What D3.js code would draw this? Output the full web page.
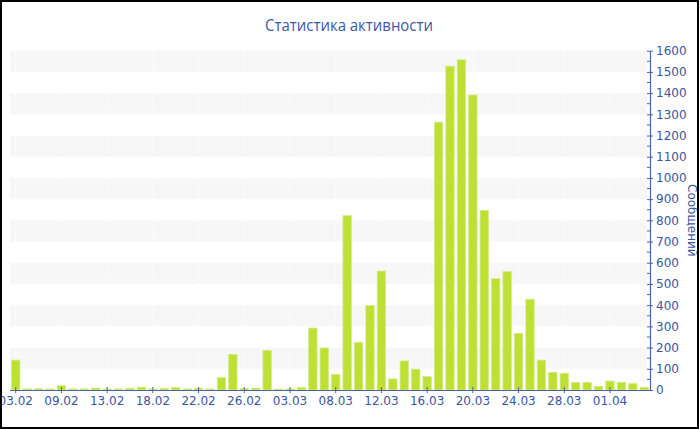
<!DOCTYPE html>
<html><head><meta charset="utf-8">
<script src="https://cdn.jsdelivr.net/npm/d3@7"></script>
<style>html,body{margin:0;padding:0;background:#fff;}svg{display:block;}</style>
</head><body>
<svg id="chart" width="700" height="430"></svg>
<script>
const categories = ["03.02","05.02","06.02","07.02","09.02","10.02","11.02","12.02","13.02","14.02","15.02","17.02","18.02","19.02","20.02","21.02","22.02","23.02","24.02","25.02","26.02","27.02","28.02","01.03","03.03","04.03","05.03","06.03","08.03","09.03","10.03","11.03","12.03","13.03","14.03","15.03","16.03","17.03","18.03","19.03","20.03","21.03","22.03","23.03","24.03","25.03","26.03","27.03","28.03","29.03","30.03","31.03","01.04","02.04","03.04","04.04"];
const messages = [141,5,6,5,20,5,5,9,5,5,8,13,5,7,12,5,9,5,58,168,8,9,187,4,5,11,292,198,74,822,225,398,561,52,137,98,63,1263,1527,1557,1391,847,525,558,267,428,141,83,79,36,35,17,42,36,30,13];
const xTickLabels = ["03.02","09.02","13.02","18.02","22.02","26.02","03.03","08.03","12.03","16.03","20.03","24.03","28.03","01.04"];
const yTicks = [0,100,200,300,400,500,600,700,800,900,1000,1100,1200,1300,1400,1500,1600];
const title = "Статистика активности";
const yTitle = "Сообщений";

const svg = d3.select("#chart");
const L = 10, R = 650, T = 50.7, B = 390;
const textColor = "#3b55a0", axisColor = "#4d62a8";
const font = "'DejaVu Sans', Verdana, sans-serif";

const x = d3.scaleBand().domain(categories).range([L, R]).paddingInner(0.27).paddingOuter(0.135);
const y = d3.scaleLinear().domain([0, 1600]).range([B, T]);

// shaded bands
const bands = yTicks.filter(v => v < 1600 && (v / 100) % 2 === 1);
svg.append("g").selectAll("rect").data(bands).join("rect")
  .attr("x", L).attr("width", R - L - 3)
  .attr("y", d => y(d + 100)).attr("height", d => y(d) - y(d + 100))
  .attr("fill", "#f7f7f7");

// faint vertical grid lines
svg.append("g").selectAll("line").data(xTickLabels).join("line")
  .attr("x1", d => x(d) + x.bandwidth() / 2).attr("x2", d => x(d) + x.bandwidth() / 2)
  .attr("y1", T).attr("y2", B)
  .attr("stroke", "#ffffff").attr("stroke-dasharray", "4,3").attr("stroke-width", 1);

// title
svg.append("text").attr("x", 349).attr("y", 31).attr("text-anchor", "middle")
  .attr("font-family", "'Open Sans', 'Noto Sans', sans-serif").attr("font-size", 16)
  .attr("textLength", 168).attr("lengthAdjust", "spacingAndGlyphs")
  .attr("fill", "#3d58a6").text(title);

// bars
svg.append("g").selectAll("rect").data(messages).join("rect")
  .attr("x", (d, i) => x(categories[i])).attr("width", x.bandwidth())
  .attr("y", d => y(d)).attr("height", d => B - y(d))
  .attr("fill", "#bde033").attr("stroke", "#d3ea84").attr("stroke-width", 0.8);

// x axis
const xAxis = d3.axisBottom(x).tickValues(xTickLabels).tickSize(3).tickSizeOuter(0);
const gx = svg.append("g").attr("transform", `translate(0,${B})`).call(xAxis);
gx.select(".domain").attr("stroke", axisColor).attr("stroke-width", 1.2).attr("d", `M${L},0.5H${R}`);
gx.selectAll(".tick line").attr("stroke", axisColor).attr("y1", -3).attr("y2", 3);
gx.selectAll(".tick text").attr("fill", textColor).attr("font-family", font).attr("font-size", 12).attr("dy", "0.95em").attr("y", 4);

// y axis right
const yAxis = d3.axisRight(y).tickValues(yTicks).tickFormat(d3.format("d")).tickSize(3).tickSizeOuter(0).tickPadding(3);
const gy = svg.append("g").attr("transform", `translate(${R},0)`).call(yAxis);
gy.select(".domain").attr("stroke", axisColor).attr("stroke-width", 1.2);
gy.selectAll(".tick line").attr("stroke", axisColor).attr("x1", -3).attr("x2", 3);
gy.selectAll(".tick text").attr("fill", textColor).attr("font-family", font).attr("font-size", 12);
// minor ticks
const minor = d3.range(50, 1600, 100);
svg.append("g").selectAll("line").data(minor).join("line")
  .attr("x1", R - 3).attr("x2", R).attr("y1", d => y(d)).attr("y2", d => y(d))
  .attr("stroke", axisColor).attr("stroke-width", 1);

// y title
svg.append("text").attr("transform", `translate(688,${(T + B) / 2}) rotate(90)`)
  .attr("text-anchor", "middle").attr("font-family", font).attr("font-size", 12)
  .attr("fill", textColor).text(yTitle);

// border
svg.append("rect").attr("x", 1).attr("y", 1).attr("width", 697).attr("height", 427)
  .attr("fill", "none").attr("stroke", "#000").attr("stroke-width", 2);
</script>
</body></html>
